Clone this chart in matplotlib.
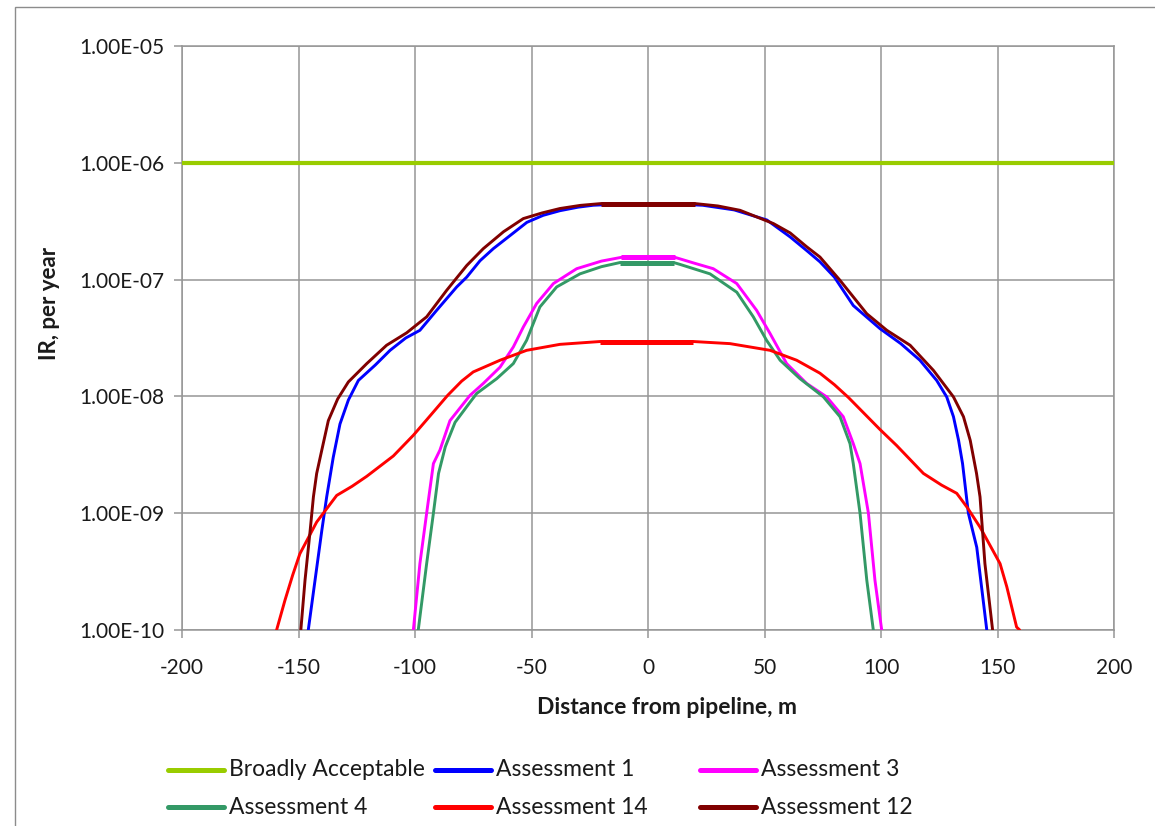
import matplotlib
matplotlib.use("Agg")
import matplotlib.pyplot as plt
from matplotlib.lines import Line2D
from matplotlib.patches import Rectangle
import numpy as np

plt.rcParams['font.family'] = ['Lato', 'DejaVu Sans']

# ---------------- data ----------------
labels = ["Broadly Acceptable", "Assessment 1", "Assessment 3",
          "Assessment 4", "Assessment 14", "Assessment 12"]
colors = ["#99CC00", "#0000FF", "#FF00FF", "#339966", "#FF0000", "#800000"]

ba_x = [-200, 200]
ba_y = [1e-6, 1e-6]

a1_x = [-145.8, -142.9, -140.0, -137.9, -135.1, -132.2, -128.6, -124.3, -117.0, -110.7,
        -104.0, -97.9, -90.7, -82.1, -77.8, -72.1, -66.4, -59.0, -52.0, -45.0, -37.8,
        -30.0, -23.5, -10.0, 0.0, 10.0, 23.5, 37.0, 51.0, 61.0, 68.0, 73.8, 80.0, 88.1,
        99.6, 108.5, 116.7, 123.9, 128.2, 131.1, 133.3, 135.0, 137.5, 141.1, 145.4]
a1_y = [1.0e-10, 2.67e-10, 7.1e-10, 1.38e-9, 3.0e-9, 5.8e-9, 9.3e-9, 1.37e-8, 1.86e-8, 2.48e-8,
        3.16e-8, 3.68e-8, 5.46e-8, 8.65e-8, 1.05e-7, 1.45e-7, 1.84e-7, 2.4e-7, 3.09e-7, 3.55e-7,
        3.89e-7, 4.17e-7, 4.33e-7, 4.45e-7, 4.45e-7, 4.45e-7, 4.33e-7, 3.95e-7, 3.24e-7,
        2.32e-7, 1.78e-7, 1.42e-7, 1.05e-7, 6.0e-8, 3.8e-8, 2.83e-8, 2.04e-8, 1.37e-8, 9.9e-9,
        6.7e-9, 4.2e-9, 2.66e-9, 1.0e-9, 5.1e-10, 1.0e-10]

a3_x = [-100.7, -97.9, -95.0, -92.1, -89.3, -85.0, -76.4, -70.7, -63.5, -57.8, -53.5, -47.8,
        -40.6, -30.6, -20.0, -11.5, 0.0, 11.6, 20.0, 28.0, 38.1, 46.6, 52.4, 59.5, 68.1,
        76.7, 83.8, 88.1, 91.0, 94.6, 97.4, 100.3]
a3_y = [1.0e-10, 3.7e-10, 1.0e-9, 2.66e-9, 3.47e-9, 6.2e-9, 1.02e-8, 1.29e-8, 1.78e-8, 2.65e-8,
        3.93e-8, 6.24e-8, 9.25e-8, 1.24e-7, 1.44e-7, 1.55e-7, 1.55e-7, 1.55e-7, 1.38e-7,
        1.24e-7, 9.25e-8, 5.46e-8, 3.45e-8, 1.91e-8, 1.29e-8, 9.9e-9, 6.7e-9, 3.94e-9, 2.66e-9,
        1.0e-9, 2.67e-10, 1.0e-10]

a4_x = [-98.6, -95.0, -92.1, -89.9, -87.0, -82.8, -76.4, -73.5, -64.9, -57.8, -52.1, -46.4,
        -39.2, -29.2, -20.0, -12.0, 0.0, 11.0, 13.7, 26.6, 38.1, 45.2, 50.9, 56.7, 65.2,
        75.3, 82.4, 86.7, 88.1, 91.0, 93.9, 96.7]
a4_y = [1.0e-10, 3.7e-10, 1.0e-9, 2.19e-9, 3.7e-9, 6.0e-9, 8.9e-9, 1.06e-8, 1.42e-8, 1.91e-8,
        3.02e-8, 5.83e-8, 8.65e-8, 1.12e-7, 1.29e-7, 1.40e-7, 1.40e-7, 1.40e-7, 1.35e-7,
        1.12e-7, 7.8e-8, 4.8e-8, 3.02e-8, 2.04e-8, 1.42e-8, 9.9e-9, 6.7e-9, 3.94e-9, 2.66e-9,
        1.0e-9, 2.67e-10, 1.0e-10]

a14_x = [-159.4, -155.8, -152.5, -149.4, -142.2, -133.6, -127.0, -120.7, -109.3, -100.7,
         -95.0, -86.0, -80.0, -75.0, -63.5, -52.1, -37.8, -20.6, 0.0, 19.5, 35.2, 52.4,
         63.8, 73.8, 80.0, 86.0, 99.6, 106.7, 118.2, 126.0, 132.5, 137.0, 142.5, 151.1,
         154.0, 158.2, 159.5]
a14_y = [1.0e-10, 1.8e-10, 2.95e-10, 4.5e-10, 8.4e-10, 1.42e-9, 1.7e-9, 2.07e-9, 3.09e-9,
         4.65e-9, 6.3e-9, 1.02e-8, 1.35e-8, 1.62e-8, 2.04e-8, 2.48e-8, 2.79e-8, 2.95e-8,
         2.95e-8, 2.95e-8, 2.83e-8, 2.48e-8, 2.04e-8, 1.58e-8, 1.26e-8, 9.8e-9, 5.2e-9, 3.8e-9,
         2.19e-9, 1.74e-9, 1.48e-9, 1.12e-9, 7.6e-10, 3.7e-10, 2.34e-10, 1.06e-10, 1.0e-10]

a12_x = [-149.0, -147.2, -145.0, -143.6, -142.2, -140.0, -137.2, -133.2, -128.6, -120.7,
         -112.2, -103.6, -95.0, -86.4, -77.8, -70.7, -62.0, -53.5, -45.5, -37.8, -29.0,
         -20.0, 0.0, 20.0, 30.0, 39.5, 53.8, 61.0, 68.1, 73.8, 82.4, 93.9, 102.5, 112.5,
         122.5, 131.1, 135.4, 138.3, 141.0, 142.5, 144.6, 147.9]
a12_y = [1.0e-10, 2.67e-10, 7.1e-10, 1.38e-9, 2.19e-9, 3.47e-9, 6.2e-9, 9.5e-9, 1.33e-8,
         1.91e-8, 2.74e-8, 3.5e-8, 4.8e-8, 8.1e-8, 1.32e-7, 1.84e-7, 2.57e-7, 3.33e-7, 3.72e-7,
         4.06e-7, 4.32e-7, 4.48e-7, 4.48e-7, 4.48e-7, 4.27e-7, 3.92e-7, 3.02e-7, 2.51e-7,
         1.91e-7, 1.56e-7, 9.86e-8, 5.1e-8, 3.68e-8, 2.74e-8, 1.67e-8, 9.9e-9, 6.7e-9, 4.2e-9,
         2.19e-9, 1.38e-9, 3.7e-10, 1.0e-10]

series_x = [ba_x, a1_x, a3_x, a4_x, a14_x, a12_x]
series_y = [ba_y, a1_y, a3_y, a4_y, a14_y, a12_y]

x_ticks = [-200, -150, -100, -50, 0, 50, 100, 150, 200]
y_ticks = [1e-10, 1e-9, 1e-8, 1e-7, 1e-6, 1e-5]

# ---------------- figure ----------------
W, H = 1155, 826
fig = plt.figure(figsize=(W / 100, H / 100), dpi=100)
fig.patch.set_facecolor("white")

# outer chart-area border (top and left visible)
fig.add_artist(Rectangle((15 / W, -0.05), 1.2, 1 - 7 / H + 0.05, transform=fig.transFigure,
                         fill=False, edgecolor="#8c8c8c", linewidth=1.0))

ax = fig.add_axes([182 / W, 1 - 630 / H, (1114 - 182) / W, (630 - 46) / H])
ax.set_yscale("log")
ax.set_xlim(-200, 200)
ax.set_ylim(1e-10, 1e-5)

grid_c = "#969696"
ax.set_xticks(x_ticks)
ax.set_yticks(y_ticks)
ax.yaxis.set_minor_locator(matplotlib.ticker.NullLocator())
ax.set_yticklabels(["%.2E" % v for v in y_ticks])
ax.set_xticklabels([str(v) for v in x_ticks])
ax.grid(True, which="major", color=grid_c, linewidth=1.1)
for s in ax.spines.values():
    s.set_color(grid_c)
    s.set_linewidth(1.1)
ax.tick_params(axis="both", which="major", color=grid_c, width=1.1, length=6,
               labelsize=15, labelcolor="#1a1a1a")
ax.tick_params(axis="x", pad=14)
ax.tick_params(axis="y", pad=7)

for i, (xs, ys) in enumerate(zip(series_x, series_y)):
    lw = 3.0 if i == 0 else 2.1
    ax.plot(xs, ys, color=colors[i], linewidth=lw, solid_joinstyle="round",
            solid_capstyle="round", zorder=3 + i)
    if i > 0:
        xa = np.array(xs)
        ya = np.array(ys)
        m = ya == ya.max()
        ax.plot(xa[m], ya[m], color=colors[i], linewidth=3.6, solid_capstyle="butt",
                zorder=3 + i)

fig.text(667 / W, 1 - 707 / H, "Distance from pipeline, m", ha="center", va="center",
         fontsize=16.5, fontweight="bold", color="#1a1a1a")
fig.text(50 / W, 1 - 303 / H, "IR, per year", ha="center", va="center", rotation=90,
         fontsize=16, fontweight="bold", color="#1a1a1a")

# legend (3 columns x 2 rows)
col_x = [168, 435, 700]
row_y = [770, 807]
for i, lab in enumerate(labels):
    r, c = divmod(i, 3)
    x0 = col_x[c]
    y0 = row_y[r]
    fig.add_artist(Line2D([x0 / W, (x0 + 56) / W], [1 - y0 / H, 1 - y0 / H],
                          transform=fig.transFigure, color=colors[i], linewidth=3.6,
                          solid_capstyle="round"))
    fig.text((x0 + 61) / W, 1 - y0 / H, lab, ha="left", va="center", fontsize=16.5,
             color="#1a1a1a")

fig.savefig("out.png", dpi=100)
